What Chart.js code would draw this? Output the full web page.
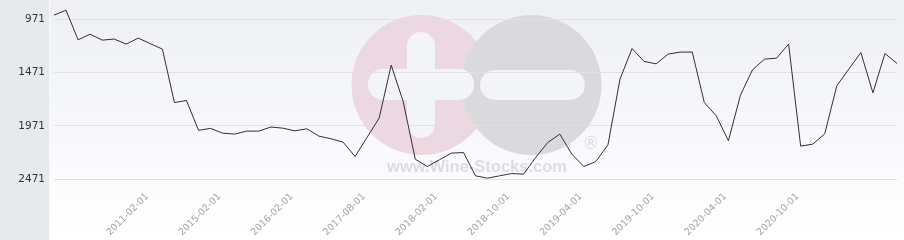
<!DOCTYPE html>
<html>
<head>
<meta charset="utf-8">
<script src="https://cdn.jsdelivr.net/npm/chart.js@4"></script>
<style>
  html, body { margin: 0; padding: 0; background: #ffffff; }
  #wrap { width: 904px; height: 240px; }
</style>
</head>
<body>
<div id="wrap"><canvas id="c" width="904" height="240"></canvas></div>
<script>
const dates = [
  '2007-08-01','2007-11-01','2008-02-01','2008-06-01','2009-02-01','2009-08-01','2010-02-01','2010-08-01',
  '2011-02-01','2011-10-01','2012-06-01','2013-02-01','2013-08-01','2014-06-01',
  '2015-02-01','2015-04-01','2015-06-01','2015-08-01','2015-10-01','2015-12-01',
  '2016-02-01','2016-05-01','2016-08-01','2016-11-01','2017-02-01','2017-05-01',
  '2017-08-01','2017-09-01','2017-10-01','2017-11-01','2017-12-01','2018-01-01',
  '2018-02-01','2018-03-01','2018-05-01','2018-06-01','2018-07-01','2018-09-01',
  '2018-10-01','2018-11-01','2018-12-01','2019-01-01','2019-02-01','2019-03-01',
  '2019-04-01','2019-05-01','2019-06-01','2019-07-01','2019-08-01','2019-09-01',
  '2019-10-01','2019-11-01','2019-12-01','2020-01-01','2020-02-01','2020-03-01',
  '2020-04-01','2020-05-01','2020-06-01','2020-07-01','2020-08-01','2020-09-01',
  '2020-10-01','2020-11-01','2020-12-01','2021-01-01','2021-02-01','2021-03-01',
  '2021-04-01','2021-05-01','2021-06-01'
];
const ranks = [
  934, 887, 1165, 1112, 1168, 1158, 1205, 1149,
  1201, 1252, 1753, 1734, 2014, 1995,
  2040, 2049, 2021, 2021, 1983, 1993,
  2018, 1999, 2068, 2093, 2124, 2259,
  2079, 1899, 1402, 1746, 2284, 2353,
  2290, 2227, 2222, 2440, 2462, 2440,
  2419, 2424, 2268, 2128, 2049, 2237,
  2353, 2306, 2149, 1533, 1247, 1368,
  1390, 1299, 1280, 1280, 1753, 1878,
  2112, 1684, 1446, 1346, 1337, 1205,
  2162, 2143, 2046, 1596, 1440, 1284,
  1662, 1293, 1387
];
const yTicks = [971, 1471, 1971, 2471];
const shownDates = ['2011-02-01','2015-02-01','2016-02-01','2017-08-01','2018-02-01',
  '2018-10-01','2019-04-01','2019-10-01','2020-04-01','2020-10-01'];

const bgPlugin = {
  id: 'bg',
  beforeDraw(chart) {
    const ctx = chart.ctx;
    const W = chart.width, H = chart.height;
    ctx.save();
    const g = ctx.createLinearGradient(0, 0, 0, H);
    g.addColorStop(0, '#eef0f5');
    g.addColorStop(0.85, '#fdfdfe');
    g.addColorStop(1, '#ffffff');
    ctx.fillStyle = g;
    ctx.fillRect(0, 0, W, H);
    ctx.fillStyle = '#e7eaed';
    ctx.fillRect(0, 0, 49, H);
    ctx.fillStyle = '#f7f8fa';
    ctx.fillRect(49, 0, 1, H);

    // watermark
    ctx.fillStyle = '#ecd8e0';
    ctx.beginPath(); ctx.arc(421.5, 85, 70, 0, Math.PI * 2); ctx.fill();
    ctx.fillStyle = '#dadadd';
    ctx.beginPath(); ctx.arc(531.5, 85, 70, 0, Math.PI * 2); ctx.fill();
    const rr = (x, y, w, h, r) => {
      ctx.beginPath();
      ctx.moveTo(x + r, y);
      ctx.arcTo(x + w, y, x + w, y + h, r);
      ctx.arcTo(x + w, y + h, x, y + h, r);
      ctx.arcTo(x, y + h, x, y, r);
      ctx.arcTo(x, y, x + w, y, r);
      ctx.closePath();
      ctx.fill();
    };
    ctx.fillStyle = '#f3f4f8';
    rr(407, 32, 28, 106, 14);
    rr(368, 69, 106, 31, 15);
    rr(480, 70, 105, 30, 15);
    ctx.fillStyle = '#dcdce1';
    ctx.font = 'bold 16.5px "Liberation Sans", Arial, sans-serif';
    ctx.textAlign = 'center';
    ctx.textBaseline = 'middle';
    ctx.fillText('www.Wine-Stocks.com', 477, 167);
    ctx.fillStyle = '#dcdce0';
    ctx.font = '17px "DejaVu Sans", sans-serif';
    ctx.fillText('\u00AE', 591, 145);
    ctx.restore();
  }
};

new Chart(document.getElementById('c'), {
  type: 'line',
  data: {
    labels: dates,
    datasets: [{
      data: ranks,
      borderColor: '#3b2a34',
      borderWidth: 1,
      pointRadius: 0,
      pointHoverRadius: 0,
      tension: 0,
      fill: false
    }]
  },
  options: {
    responsive: false,
    animation: false,
    events: [],
    layout: { padding: { top: 6, right: 7, left: 0, bottom: 0 } },
    plugins: { legend: { display: false }, tooltip: { enabled: false } },
    scales: {
      x: {
        grid: { display: false, drawTicks: false },
        border: { display: false },
        afterFit(s) {
          s.height = 50;
          s.paddingLeft = 0; s.paddingRight = 0; s.paddingTop = 0; s.paddingBottom = 0;
        },
        ticks: {
          autoSkip: false,
          maxRotation: 45,
          minRotation: 45,
          padding: 1,
          labelOffset: -3,
          color: '#a3a3a3',
          font: { family: '"DejaVu Sans", sans-serif', size: 9.5 },
          callback(v, i) {
            const l = this.getLabelForValue(v);
            return shownDates.includes(l) ? l : '';
          }
        }
      },
      y: {
        reverse: true,
        min: 848,
        max: 2573,
        afterBuildTicks(s) { s.ticks = yTicks.map(v => ({ value: v })); },
        afterFit(s) {
          s.width = 54;
          s.paddingLeft = 0; s.paddingRight = 0; s.paddingTop = 0; s.paddingBottom = 0;
        },
        grid: { color: '#e1e1e4', drawTicks: false, lineWidth: 1 },
        border: { display: false },
        ticks: {
          padding: 9,
          color: '#333333',
          font: { family: '"DejaVu Sans", sans-serif', size: 10.5 },
          callback(v) { return String(v); }
        }
      }
    }
  },
  plugins: [bgPlugin]
});
</script>
</body>
</html>
